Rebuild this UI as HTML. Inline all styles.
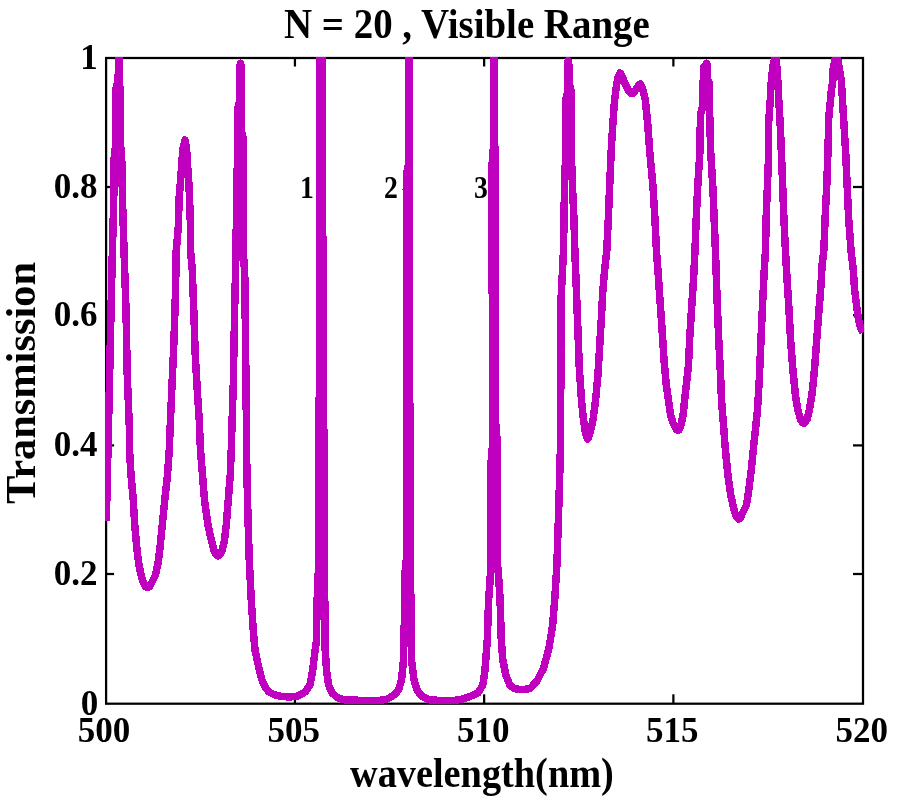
<!DOCTYPE html>
<html><head><meta charset="utf-8"><title>N = 20 , Visible Range</title>
<style>
html,body{margin:0;padding:0;background:#fff;}
body{width:900px;height:800px;position:relative;overflow:hidden;font-family:"Liberation Serif",serif;font-weight:bold;color:#000;}
svg{position:absolute;left:0;top:0;}
.t{position:absolute;white-space:nowrap;line-height:1;transform-origin:0 0;}
</style></head><body>
<svg width="900" height="800" viewBox="0 0 900 800">
<rect x="0" y="0" width="900" height="800" fill="#fff"/>
<g stroke="#000" stroke-width="2.25" fill="none">
<rect x="106.10" y="58.00" width="756.90" height="645.70"/>
<line x1="294.93" y1="703.70" x2="294.93" y2="694.30"/><line x1="294.93" y1="58.00" x2="294.93" y2="66.50"/><line x1="484.15" y1="703.70" x2="484.15" y2="694.30"/><line x1="484.15" y1="58.00" x2="484.15" y2="66.50"/><line x1="673.38" y1="703.70" x2="673.38" y2="694.30"/><line x1="673.38" y1="58.00" x2="673.38" y2="66.50"/><line x1="106.10" y1="574.00" x2="114.10" y2="574.00"/><line x1="863.00" y1="574.00" x2="853.00" y2="574.00"/><line x1="106.10" y1="445.40" x2="114.10" y2="445.40"/><line x1="863.00" y1="445.40" x2="853.00" y2="445.40"/><line x1="106.10" y1="315.20" x2="114.10" y2="315.20"/><line x1="863.00" y1="315.20" x2="853.00" y2="315.20"/><line x1="106.10" y1="187.00" x2="114.10" y2="187.00"/><line x1="863.00" y1="187.00" x2="853.00" y2="187.00"/>
</g>
<clipPath id="c"><rect x="105.00" y="56.90" width="759.10" height="647.90"/></clipPath>
<g clip-path="url(#c)"><path d="M106.30 521.00 L107.50 470.00 L109.20 395.00 L110.70 325.00 L112.40 250.00 L113.75 200.00 L114.00 160.00 L115.65 145.00 L115.65 90.00 L118.20 80.00 L118.40 62.00 L118.60 50.00 L119.40 50.00 L119.40 80.00 L120.00 90.00 L120.00 140.00 L121.25 152.00 L121.75 160.00 L122.50 200.00 L124.00 250.00 L126.00 310.00 L127.25 375.00 L129.25 425.00 L129.50 450.00 L131.00 475.00 L133.25 500.00 L134.75 525.00 L137.00 550.00 L139.00 565.00 L141.00 575.00 L143.50 583.00 L145.50 586.50 L147.50 587.50 L149.50 586.50 L151.50 583.00 L155.50 575.00 L158.00 563.00 L159.75 550.00 L162.25 525.00 L164.75 500.00 L167.50 475.00 L169.25 450.00 L170.25 425.00 L172.00 385.00 L174.00 340.00 L175.50 292.00 L176.25 250.00 L178.50 225.00 L179.00 200.00 L181.00 175.00 L182.00 160.00 L183.00 148.00 L185.00 140.00 L186.50 148.00 L187.50 165.00 L189.00 185.00 L189.60 200.00 L190.60 230.00 L190.50 250.00 L192.25 270.00 L193.75 310.00 L195.25 355.00 L197.25 390.00 L199.25 420.00 L200.50 450.00 L202.50 475.00 L204.50 500.00 L208.00 525.00 L211.25 540.00 L214.00 550.50 L216.00 554.50 L218.00 556.00 L220.00 554.50 L222.00 550.50 L224.50 540.00 L226.25 525.00 L228.25 500.00 L230.25 475.00 L231.25 450.00 L231.50 440.00 L233.25 385.00 L234.75 305.00 L236.00 250.00 L236.50 210.00 L237.75 140.00 L237.75 108.00 L240.00 100.00 L240.00 66.00 L240.40 63.20 L240.60 63.20 L241.00 66.00 L241.00 130.00 L243.15 138.00 L243.15 210.00 L243.25 250.00 L244.75 275.00 L245.50 340.00 L246.25 410.00 L246.50 450.00 L247.50 500.00 L249.25 560.00 L251.25 600.00 L253.25 630.00 L255.00 650.00 L257.50 662.00 L262.00 680.00 L265.00 687.00 L269.00 692.00 L275.00 695.00 L282.00 696.50 L290.00 697.00 L298.00 696.00 L305.00 692.00 L310.00 685.00 L312.70 670.00 L314.50 655.00 L316.50 640.00 L317.00 603.00 L318.80 560.00 L319.25 420.00 L319.50 50.00 L321.75 50.00 L323.75 420.00 L324.00 560.00 L324.80 603.00 L325.20 650.00 L326.50 670.00 L328.50 685.00 L332.00 693.00 L338.00 698.00 L345.00 700.00 L360.00 700.30 L380.00 700.30 L386.00 699.50 L391.00 697.00 L395.00 694.00 L398.50 690.00 L401.50 680.00 L403.50 660.00 L404.25 625.00 L404.25 580.00 L406.25 560.00 L406.25 190.00 L406.40 175.00 L408.25 165.00 L408.25 50.00 L408.75 50.00 L408.90 178.00 L410.35 560.00 L411.15 625.00 L411.50 660.00 L414.00 680.00 L417.00 690.00 L420.00 694.00 L423.00 697.00 L430.00 700.00 L440.00 700.40 L455.00 700.40 L462.50 699.00 L470.00 696.50 L478.00 693.00 L482.80 685.00 L485.00 670.00 L487.30 640.00 L488.60 600.00 L490.00 582.00 L490.80 565.00 L490.80 540.00 L490.50 470.00 L492.50 445.00 L492.50 420.00 L492.00 165.00 L493.25 149.00 L493.25 50.00 L493.75 50.00 L494.00 140.00 L495.75 155.00 L495.40 420.00 L497.50 445.00 L497.50 540.00 L497.60 565.00 L499.00 582.00 L500.10 600.00 L501.30 640.00 L502.80 660.00 L505.80 675.00 L509.80 685.00 L514.00 688.50 L522.00 689.70 L530.00 688.50 L537.00 681.00 L543.60 668.00 L549.00 648.00 L552.60 625.60 L555.00 596.00 L557.00 562.50 L559.00 500.00 L560.40 450.00 L560.75 395.00 L561.25 295.00 L563.50 250.00 L564.50 187.00 L565.80 150.00 L566.00 98.00 L567.75 92.00 L567.75 64.00 L568.10 60.50 L568.60 64.00 L569.35 66.00 L569.35 84.00 L571.00 90.00 L571.20 150.00 L572.50 187.00 L574.00 220.00 L574.80 250.00 L576.00 280.00 L577.90 330.00 L579.40 370.00 L581.50 400.00 L583.50 420.00 L585.30 432.00 L586.50 437.00 L587.50 439.00 L588.70 437.00 L590.20 432.00 L593.00 420.00 L595.60 400.00 L597.90 375.00 L599.75 345.00 L601.25 320.00 L602.90 290.00 L604.60 270.00 L606.80 250.00 L608.25 220.00 L609.60 187.00 L611.25 150.00 L612.75 125.00 L614.60 100.00 L616.50 85.00 L618.00 77.00 L620.00 73.00 L622.00 76.00 L625.00 83.50 L628.00 90.00 L630.00 92.50 L632.00 93.70 L634.00 92.50 L636.50 88.50 L638.50 85.50 L640.30 84.00 L642.50 88.00 L645.30 100.00 L647.80 125.00 L649.60 150.00 L653.00 187.00 L655.00 220.00 L656.40 250.00 L657.90 270.00 L660.00 300.00 L662.10 330.00 L664.00 360.00 L666.25 385.00 L668.50 400.00 L670.60 415.00 L673.00 423.00 L675.50 428.00 L677.00 430.00 L678.00 430.50 L679.00 430.00 L680.70 426.00 L683.10 415.00 L684.60 400.00 L686.25 385.00 L688.50 365.00 L689.60 340.00 L691.50 310.00 L693.50 280.00 L695.00 250.00 L695.75 230.00 L697.50 190.00 L700.00 150.00 L700.40 115.00 L702.75 105.00 L702.75 82.00 L703.75 78.00 L703.75 67.00 L706.20 64.00 L706.50 63.20 L706.85 64.00 L706.85 78.00 L709.00 82.00 L709.00 108.00 L709.70 115.00 L710.60 150.00 L713.00 190.00 L714.60 230.00 L715.40 250.00 L717.10 300.00 L718.75 340.00 L720.75 380.00 L721.50 400.00 L723.50 425.00 L725.40 450.00 L727.90 475.00 L730.75 495.00 L732.90 505.00 L735.00 513.00 L737.00 517.50 L738.75 519.00 L740.50 517.50 L742.50 513.00 L746.50 505.00 L748.75 490.00 L751.25 470.00 L753.25 450.00 L755.40 430.00 L757.50 410.00 L759.25 380.00 L760.75 345.00 L762.50 305.00 L764.25 270.00 L765.50 250.00 L766.25 215.00 L768.25 165.00 L768.60 123.00 L770.60 95.00 L770.90 85.00 L773.00 66.00 L774.80 58.00 L775.00 50.00 L775.80 50.00 L775.90 60.00 L777.25 70.00 L778.50 95.00 L780.40 128.00 L781.90 165.00 L783.75 215.00 L785.40 250.00 L787.10 280.00 L789.00 310.00 L790.60 340.00 L792.90 370.00 L795.40 395.00 L797.90 410.00 L800.50 419.50 L802.50 422.50 L803.75 423.50 L805.00 422.50 L807.00 419.50 L809.40 410.00 L811.90 395.00 L814.00 375.00 L815.60 355.00 L817.10 335.00 L819.00 310.00 L821.00 285.00 L822.10 265.00 L823.90 250.00 L825.00 220.00 L826.75 185.00 L828.00 150.00 L828.75 118.00 L831.40 90.00 L832.90 80.00 L833.00 70.00 L834.50 62.00 L835.70 56.00 L835.90 50.00 L837.10 50.00 L837.25 56.00 L838.30 62.00 L839.50 70.00 L841.30 80.00 L842.60 102.00 L844.30 130.00 L845.80 155.00 L847.10 185.00 L848.75 220.00 L851.00 250.00 L853.25 270.00 L854.60 290.00 L856.50 305.00 L858.50 320.00 L861.00 329.00 L863.00 332.50" fill="none" stroke="#bf00bf" stroke-width="7.5" stroke-linejoin="round" stroke-linecap="butt" shape-rendering="crispEdges"/></g>
</svg>
<div class="t" id="title" style="left:284.2px;top:3px;font-size:42px;transform:scaleX(0.926);">N = 20 , Visible Range</div>
<div class="t" id="y1" style="left:80.3px;top:40px;font-size:35px;">1</div>
<div class="t" id="y08" style="left:53.8px;top:168.7px;font-size:35px;">0.8</div>
<div class="t" id="y06" style="left:53.8px;top:297.4px;font-size:35px;">0.6</div>
<div class="t" id="y04" style="left:53.8px;top:426.7px;font-size:35px;">0.4</div>
<div class="t" id="y02" style="left:53.8px;top:555.8px;font-size:35px;">0.2</div>
<div class="t" id="y0" style="left:80.8px;top:686.1px;font-size:35px;">0</div>
<div class="t" id="x500" style="left:77.8px;top:713px;font-size:35px;">500</div>
<div class="t" id="x505" style="left:267.6px;top:713px;font-size:35px;">505</div>
<div class="t" id="x510" style="left:457px;top:713px;font-size:35px;">510</div>
<div class="t" id="x515" style="left:646px;top:713px;font-size:35px;">515</div>
<div class="t" id="x520" style="left:835.5px;top:713px;font-size:35px;">520</div>
<div class="t" id="xl" style="left:350px;top:752px;font-size:42px;transform:scaleX(0.912);">wavelength(nm)</div>
<div class="t" id="yl" style="left:0px;top:504px;font-size:42px;transform:rotate(-90deg) scaleX(1.01);">Transmission</div>
<div class="t" id="l1" style="left:300.3px;top:172.3px;font-size:31.5px;transform:scaleX(0.88);">1</div>
<div class="t" id="l2" style="left:383.6px;top:172.3px;font-size:31.5px;transform:scaleX(0.88);">2</div>
<div class="t" id="l3" style="left:474.3px;top:172.3px;font-size:31.5px;transform:scaleX(0.88);">3</div>

</body></html>
